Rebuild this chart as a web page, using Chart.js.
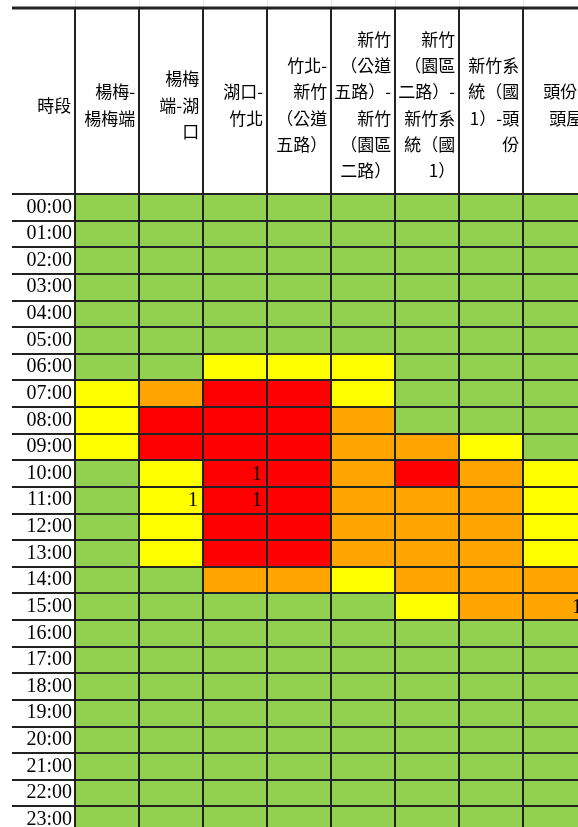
<!DOCTYPE html>
<html>
<head>
<meta charset="utf-8">
<script src="https://cdn.jsdelivr.net/npm/chart.js@4.4.1/dist/chart.umd.min.js"></script>
<style>
  html, body { margin: 0; padding: 0; background: #fff; overflow: hidden; }
  #wrap { width: 587px; height: 833px; }
</style>
</head>
<body>
<div id="wrap"><canvas id="jamChart"></canvas></div>
<script>
const hours = ['00:00', '01:00', '02:00', '03:00', '04:00', '05:00', '06:00', '07:00',
               '08:00', '09:00', '10:00', '11:00', '12:00', '13:00', '14:00', '15:00',
               '16:00', '17:00', '18:00', '19:00', '20:00', '21:00', '22:00', '23:00'];

const segments = ['楊梅-楊梅端', '楊梅端-湖口', '湖口-竹北', '竹北-新竹（公道五路）',
                  '新竹（公道五路）-新竹（園區二路）', '新竹（園區二路）-新竹系統（國1）',
                  '新竹系統（國1）-頭份', '頭份-頭屋'];

// header cell text, wrapped the way the sheet shows it
const headerLines = [
    ['時段'],
    ['楊梅-', '楊梅端'],
    ['楊梅', '端-湖', '口'],
    ['湖口-', '竹北'],
    ['竹北-', '新竹', '（公道', '五路）'],
    ['新竹', '（公道', '五路）-', '新竹', '（園區', '二路）'],
    ['新竹', '（園區', '二路）-', '新竹系', '統（國', '1）'],
    ['新竹系', '統（國', '1）-頭', '份'],
    ['頭份-', '頭屋']
];

// 0 = 綠 1 = 黃 2 = 橙 3 = 紅, one value per hour
const lvYangmei   = [0,0,0,0,0,0,0,1,1,1,0,0,0,0,0,0,0,0,0,0,0,0,0,0];
const lvHukou     = [0,0,0,0,0,0,0,2,3,3,1,1,1,1,0,0,0,0,0,0,0,0,0,0];
const lvZhubei    = [0,0,0,0,0,0,1,3,3,3,3,3,3,3,2,0,0,0,0,0,0,0,0,0];
const lvGongdao   = [0,0,0,0,0,0,1,3,3,3,3,3,3,3,2,0,0,0,0,0,0,0,0,0];
const lvYuanqu    = [0,0,0,0,0,0,1,1,2,2,2,2,2,2,1,0,0,0,0,0,0,0,0,0];
const lvXinzhuSys = [0,0,0,0,0,0,0,0,0,2,3,2,2,2,2,1,0,0,0,0,0,0,0,0];
const lvToufen    = [0,0,0,0,0,0,0,0,0,1,2,2,2,2,2,2,0,0,0,0,0,0,0,0];
const lvTouwu     = [0,0,0,0,0,0,0,0,0,0,1,1,1,1,2,2,0,0,0,0,0,0,0,0];
const levels = [lvYangmei, lvHukou, lvZhubei, lvGongdao, lvYuanqu, lvXinzhuSys, lvToufen, lvTouwu];

// [segment index, hour index, number shown in cell]
const cellCounts = [[2, 10, 1], [1, 11, 1], [2, 11, 1], [7, 15, 1]];

const levelColors = ['#92D050', '#FFFF00', '#FFA500', '#FF0000'];

// numbers written inside some cells
const cellNumbers = {
    id: 'cellNumbers',
    afterDatasetsDraw(chart) {
        const c = chart.ctx;
        c.save();
        c.font = '20px "Liberation Serif"';
        c.fillStyle = '#000';
        c.textAlign = 'right';
        c.textBaseline = 'middle';
        cellCounts.forEach(([seg, hour, n]) => {
            const bar = chart.getDatasetMeta(seg).data[hour];
            c.fillText(String(n), bar.x - 5, bar.y + 1);
        });
        c.restore();
    }
};

// thick top rule of the header + faint sheet lines above it
const headerFrame = {
    id: 'headerFrame',
    afterDraw(chart) {
        const { ctx: c, chartArea, scales } = chart;
        const top = chartArea.top - scales.x.options.grid.tickLength;
        const left = chartArea.left - scales.y.options.grid.tickLength;
        c.save();
        c.strokeStyle = '#e4e4e4';
        c.lineWidth = 1;
        for (let i = 0; i <= segments.length; i++) {
            const px = Math.round(scales.x.getPixelForValue(i)) + 0.5;
            c.beginPath(); c.moveTo(px, 0); c.lineTo(px, top); c.stroke();
        }
        c.strokeStyle = '#222';
        c.lineWidth = 3;
        c.beginPath(); c.moveTo(left, top); c.lineTo(chart.width, top); c.stroke();
        c.restore();
    }
};

const ctx = document.getElementById('jamChart');
new Chart(ctx, {
    type: 'bar',
    data: {
        labels: hours,
        datasets: segments.map((name, i) => ({
            label: name,
            data: hours.map(() => 1),
            backgroundColor: levels[i].map(l => levelColors[l]),
            borderWidth: 0,
            barPercentage: 1,
            categoryPercentage: 1
        }))
    },
    options: {
        indexAxis: 'y',
        responsive: true,
        maintainAspectRatio: false,
        animation: false,
        layout: { padding: 0 },
        scales: {
            x: {
                type: 'linear',
                position: 'top',
                stacked: true,
                min: 0,
                max: 8,
                afterBuildTicks: s => { s.ticks = headerLines.map((_, i) => ({ value: i })); },
                afterFit: s => { s.height = 194; },
                grid: { color: '#222', lineWidth: 2, tickLength: 186, z: 1 },
                border: { color: '#222', width: 2, z: 1 },
                ticks: {
                    autoSkip: false,
                    maxRotation: 0,
                    minRotation: 0,
                    align: 'end',
                    crossAlign: 'center',
                    padding: -163,
                    color: '#000',
                    font: { family: '"Noto Sans CJK TC"', size: 17, lineHeight: 1.55 },
                    callback: v => headerLines[v].map(t => t + ' ')
                }
            },
            y: {
                type: 'category',
                stacked: true,
                offset: true,
                afterFit: s => { s.width = 75; },
                grid: { color: '#222', lineWidth: 2, tickLength: 63, offset: true, z: 1 },
                border: { color: '#222', width: 2, z: 1 },
                ticks: {
                    autoSkip: false,
                    padding: -60,
                    color: '#000',
                    font: { family: '"Liberation Serif"', size: 20 }
                }
            }
        },
        plugins: {
            legend: { display: false },
            tooltip: { enabled: false }
        }
    },
    plugins: [cellNumbers, headerFrame]
});
</script>
</body>
</html>
